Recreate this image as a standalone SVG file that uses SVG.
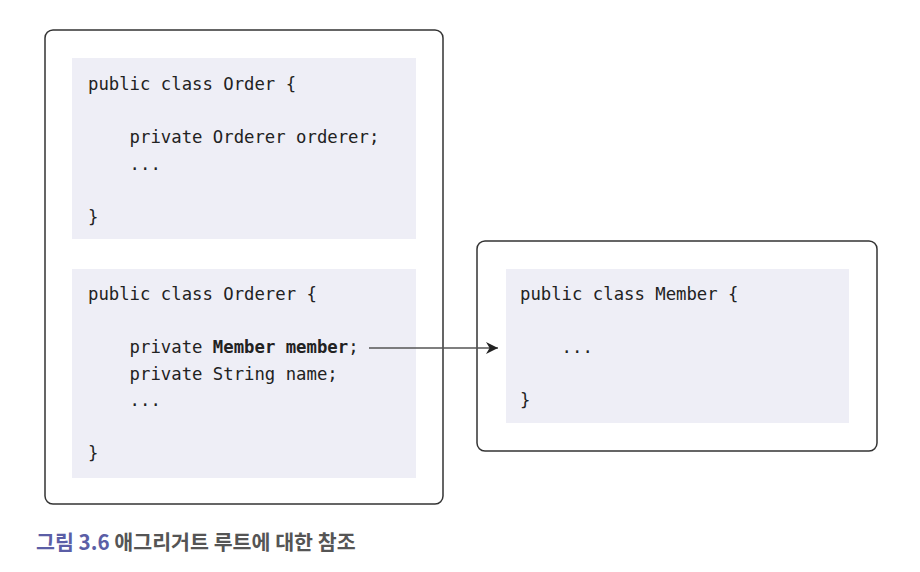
<svg xmlns="http://www.w3.org/2000/svg" width="920" height="572" viewBox="0 0 920 572">
<style>
.outer{fill:#fff;stroke:#333;stroke-width:1.5}
.inner{fill:#eeeef6;stroke:none}
.code{font-family:"DejaVu Sans Mono","Liberation Mono",monospace;font-size:17.3px;fill:#222;white-space:pre}
.b{font-weight:bold}
.cap{font-family:"Noto Sans CJK KR","Noto Sans",sans-serif;font-size:20.6px;font-weight:bold}
</style>
<defs>
<marker id="ah" viewBox="0 0 10 10" refX="10" refY="5" markerWidth="12" markerHeight="12" markerUnits="userSpaceOnUse" orient="auto">
<path d="M0,0 L10,5 L0,10 L3,5 Z" fill="#222"/>
</marker>
</defs>
<rect width="920" height="572" fill="#fff"/>
<g id="aggregate">
<rect class="outer" x="45" y="30" width="398" height="474" rx="8"/>
</g>
<g id="order">
<rect class="inner" x="72" y="58" width="344" height="181"/>
<text class="code" x="88" y="90">public class Order {</text>
<text class="code" x="88" y="143">    private Orderer orderer;</text>
<text class="code" x="88" y="170">    ...</text>
<text class="code" x="88" y="223">}</text>
</g>
<g id="orderer">
<rect class="inner" x="72" y="269" width="344" height="209"/>
<text class="code" x="88" y="300">public class Orderer {</text>
<text class="code" x="88" y="353">    private <tspan class="b">Member member</tspan>;</text>
<text class="code" x="88" y="380">    private String name;</text>
<text class="code" x="88" y="406">    ...</text>
<text class="code" x="88" y="459">}</text>
</g>
<g id="member">
<rect class="outer" x="477" y="241" width="400" height="210" rx="8"/>
<rect class="inner" x="506" y="269" width="343" height="154"/>
<text class="code" x="520" y="300">public class Member {</text>
<text class="code" x="520" y="353">    ...</text>
<text class="code" x="520" y="406">}</text>
</g>
<g id="connectors">
<line x1="369" y1="348" x2="498" y2="348" stroke="#555" stroke-width="1.5" marker-end="url(#ah)"/>
</g>
<g id="caption">
<text class="cap" x="36" y="550"><tspan fill="#5b5ea6">그림 3.6</tspan><tspan fill="#555"> 애그리거트 루트에 대한 참조</tspan></text>
</g>
</svg>
